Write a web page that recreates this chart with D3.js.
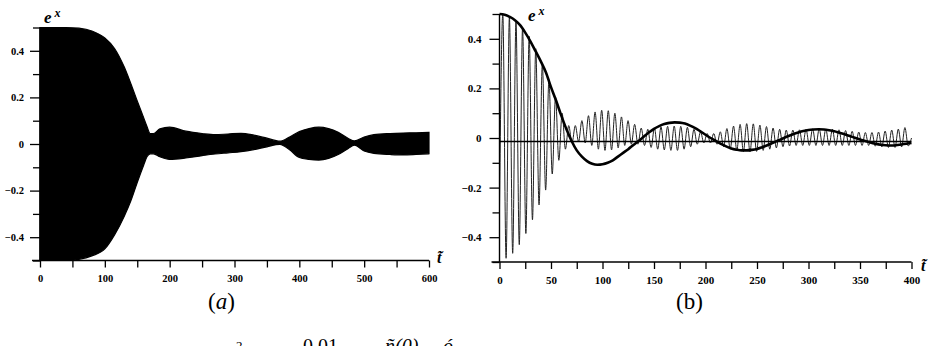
<!DOCTYPE html>
<html>
<head>
<meta charset="utf-8">
<script src="https://cdn.jsdelivr.net/npm/d3@7"></script>
<style>
  body { margin: 0; background: #fff; }
  svg { display: block; }
</style>
</head>
<body>
<svg width="935" height="346"></svg>
<script>
// panel (a): envelope of the dense oscillation (upper / lower edges of the black band)
var aT     = [0, 20, 40, 60, 80, 100, 115, 130, 140, 150, 160, 165, 170, 175, 185, 200, 225, 250, 270, 290, 310, 330, 350, 370, 385, 400, 415, 430, 445, 460, 475, 485, 500, 515, 540, 560, 580, 600];
var aUpper = [0.5, 0.5, 0.5, 0.497, 0.485, 0.455, 0.41, 0.33, 0.26, 0.185, 0.112, 0.075, 0.045, 0.045, 0.065, 0.072, 0.055, 0.045, 0.04, 0.043, 0.046, 0.038, 0.025, 0.012, 0.03, 0.053, 0.066, 0.072, 0.066, 0.05, 0.025, 0.013, 0.03, 0.04, 0.045, 0.047, 0.048, 0.05];
var aLower = [-0.5, -0.5, -0.5, -0.495, -0.48, -0.45, -0.39, -0.31, -0.245, -0.165, -0.09, -0.055, -0.042, -0.042, -0.055, -0.066, -0.06, -0.05, -0.043, -0.038, -0.033, -0.024, -0.012, -0.002, -0.025, -0.058, -0.066, -0.069, -0.062, -0.045, -0.02, -0.005, -0.03, -0.04, -0.045, -0.047, -0.045, -0.042];

// panel (b): thin oscillation, read as successive peak and trough values
var bPeriod = 6.4;
var bStart = -0.28, bEnd = 0.0;
var bPeaks = [0.5, 0.488, 0.47, 0.445, 0.41, 0.36, 0.30, 0.235, 0.165, 0.10,
              0.05, 0.05, 0.07, 0.09, 0.105, 0.112, 0.11, 0.1, 0.085, 0.07,
              0.055, 0.04, 0.035, 0.04, 0.045, 0.047, 0.048, 0.047, 0.043, 0.035,
              0.025, 0.018, 0.018, 0.025, 0.038, 0.048, 0.055, 0.058, 0.057, 0.052,
              0.046, 0.04, 0.035, 0.032, 0.032, 0.033, 0.035, 0.037, 0.037, 0.036,
              0.035, 0.033, 0.03, 0.027, 0.024, 0.022, 0.022, 0.024, 0.028, 0.032,
              0.036, 0.042];
var bTroughs = [-0.485, -0.465, -0.43, -0.385, -0.33, -0.27, -0.21, -0.145, -0.09, -0.045,
                -0.02, -0.015, -0.02, -0.03, -0.045, -0.05, -0.048, -0.04, -0.03, -0.025,
                -0.025, -0.03, -0.038, -0.045, -0.048, -0.05, -0.05, -0.045, -0.035, -0.025,
                -0.02, -0.02, -0.025, -0.035, -0.045, -0.05, -0.055, -0.056, -0.054, -0.05,
                -0.045, -0.04, -0.035, -0.032, -0.03, -0.03, -0.03, -0.03, -0.03, -0.03,
                -0.03, -0.03, -0.03, -0.03, -0.03, -0.03, -0.033, -0.036, -0.038, -0.038,
                -0.036, -0.032];

// panel (b): thick slow curve
var sT = [0, 5, 10, 15, 20, 25, 30, 35, 40, 45, 50, 55, 60, 65, 70, 75, 80, 85, 90, 95, 100, 105, 110, 115, 120, 125, 130, 135, 140, 145, 150, 155, 160, 165, 170, 175, 180, 185, 190, 195, 200, 205, 210, 215, 220, 225, 230, 235, 240, 245, 250, 255, 260, 265, 270, 275, 280, 285, 290, 295, 300, 305, 310, 315, 320, 325, 330, 335, 340, 345, 350, 355, 360, 365, 370, 375, 380, 385, 390, 395, 400];
var sV = [0.5, 0.497, 0.488, 0.475, 0.455, 0.425, 0.39, 0.35, 0.31, 0.265, 0.205, 0.15, 0.09, 0.035, -0.012, -0.05, -0.075, -0.093, -0.104, -0.108, -0.106, -0.1, -0.09, -0.075, -0.06, -0.045, -0.028, -0.012, 0.005, 0.022, 0.037, 0.048, 0.056, 0.061, 0.063, 0.062, 0.058, 0.05, 0.04, 0.027, 0.013, 0.0, -0.012, -0.024, -0.034, -0.042, -0.047, -0.05, -0.05, -0.048, -0.044, -0.037, -0.029, -0.02, -0.011, -0.002, 0.007, 0.015, 0.022, 0.028, 0.032, 0.034, 0.035, 0.034, 0.031, 0.027, 0.021, 0.015, 0.008, 0.001, -0.006, -0.012, -0.018, -0.023, -0.027, -0.029, -0.03, -0.029, -0.026, -0.023, -0.02];
var bBase = -0.014;

var yMajor = [-0.4, -0.2, 0, 0.2, 0.4];
var yMinor = [-0.5, -0.3, -0.1, 0.1, 0.3, 0.5];
var aXLabels = [0, 100, 200, 300, 400, 500, 600];
var aXTicks = d3.range(0, 601, 50);
var bXLabels = [0, 50, 100, 150, 200, 250, 300, 350, 400];
var bXTicks = d3.range(0, 401, 25);

var SERIF = "'Liberation Serif', 'Times New Roman', 'DejaVu Serif', serif";
var svg = d3.select("svg");
var fmt = function(d) { return d === 0 ? "0" : d3.format(".1f")(d); };

function axes(g, x, y, xTicks, xLabels, fs, labOff) {
  var x0 = x.range()[0], x1 = x.range()[1];
  var yb = y.range()[0], yt = y.range()[1];
  g.append("line").attr("x1", x0 - 8).attr("x2", x1).attr("y1", yb).attr("y2", yb)
    .attr("stroke", "#000").attr("stroke-width", 1.4);
  g.append("line").attr("x1", x0).attr("x2", x0).attr("y1", yt).attr("y2", yb)
    .attr("stroke", "#000").attr("stroke-width", 1.4);
  var ya = g.append("g").attr("transform", "translate(" + x0 + ",0)")
    .call(d3.axisLeft(y).tickValues(yMajor).tickFormat(fmt).tickSize(10).tickPadding(labOff));
  var ym = g.append("g").attr("transform", "translate(" + x0 + ",0)")
    .call(d3.axisLeft(y).tickValues(yMinor).tickFormat("").tickSize(7));
  var xm = g.append("g").attr("transform", "translate(0," + yb + ")")
    .call(d3.axisBottom(x).tickValues(xTicks).tickFormat("").tickSize(7));
  var xa = g.append("g").attr("transform", "translate(0," + yb + ")")
    .call(d3.axisBottom(x).tickValues(xLabels).tickFormat(d3.format("d")).tickSize(0).tickPadding(14));
  [ya, ym, xm, xa].forEach(function(s) {
    s.attr("font-family", null);
    s.select(".domain").remove();
    s.selectAll(".tick line").attr("stroke", "#000").attr("stroke-width", 1.3);
    s.selectAll(".tick text").attr("fill", "#000")
      .style("font-family", SERIF).style("font-weight", "bold").style("font-size", fs + "px");
  });
}

function ex(g, xp, yp) {
  var t = g.append("text").attr("x", xp).attr("y", yp).style("font-family", SERIF)
    .style("font-weight", "bold").style("font-style", "italic").style("font-size", "17px");
  t.append("tspan").text("e");
  t.append("tspan").attr("dx", 3).attr("dy", -6).style("font-size", "12px").text("x");
}

function tlabel(g, xp, yp) {
  g.append("text").attr("x", xp).attr("y", yp).style("font-family", SERIF)
    .style("font-weight", "bold").style("font-style", "italic").style("font-size", "16px")
    .text("t\u0303");
}

// ---------- panel (a)
var xa = d3.scaleLinear().domain([0, 600]).range([40, 429]);
var ya = d3.scaleLinear().domain([-0.5, 0.5]).range([260.5, 27.5]);
var ga = svg.append("g");
var band = aT.map(function(t, i) { return {t: t, hi: aUpper[i], lo: aLower[i]}; });
ga.append("path").datum(band)
  .attr("d", d3.area().curve(d3.curveMonotoneX)
    .x(function(d) { return xa(d.t); })
    .y0(function(d) { return ya(d.lo); })
    .y1(function(d) { return ya(d.hi); }))
  .attr("fill", "#000").attr("stroke", "#000").attr("stroke-width", 1.2);
axes(ga, xa, ya, aXTicks, aXLabels, 10.5, 6);
ex(ga, 44, 23);
tlabel(ga, 437, 263);
var la = ga.append("text").attr("x", 208).attr("y", 309).style("font-family", SERIF).style("font-size", "23px");
la.append("tspan").text("(");
la.append("tspan").style("font-style", "italic").text("a");
la.append("tspan").text(")");

// ---------- panel (b)
var xb = d3.scaleLinear().domain([0, 400]).range([499.5, 911.5]);
var yb = d3.scaleLinear().domain([-0.5, 0.5]).range([262, 14]);
var gb = svg.append("g");
var pts = [[0, bStart]];
bPeaks.forEach(function(v, i) {
  pts.push([bPeriod / 2 + i * bPeriod, v]);
  pts.push([bPeriod + i * bPeriod, bTroughs[i]]);
});
pts.push([400, bEnd]);
gb.append("path").datum(pts)
  .attr("d", d3.line().curve(d3.curveMonotoneX)
    .x(function(d) { return xb(d[0]); }).y(function(d) { return yb(d[1]); }))
  .attr("fill", "none").attr("stroke", "#222").attr("stroke-width", 1);
gb.append("line").attr("x1", xb(0)).attr("x2", xb(400)).attr("y1", yb(bBase)).attr("y2", yb(bBase))
  .attr("stroke", "#000").attr("stroke-width", 1.6);
gb.append("path").datum(sT.map(function(t, i) { return [t, sV[i]]; }))
  .attr("d", d3.line().curve(d3.curveMonotoneX)
    .x(function(d) { return xb(d[0]); }).y(function(d) { return yb(d[1]); }))
  .attr("fill", "none").attr("stroke", "#000").attr("stroke-width", 2.6);
axes(gb, xb, yb, bXTicks, bXLabels, 11, 8);
ex(gb, 528, 21);
tlabel(gb, 921, 271);
gb.append("text").attr("x", 676).attr("y", 309).style("font-family", SERIF).style("font-size", "23px").text("(b)");

// cut-off caption line at the very bottom (only the top of it shows in the reference)
var cap = svg.append("g").style("font-family", SERIF).style("font-size", "20px").style("font-style", "italic");
cap.append("text").attr("x", 236).attr("y", 350).style("font-size", "13px").style("font-style", "normal").text("2");
cap.append("text").attr("x", 303).attr("y", 353).style("font-style", "normal").text("0.01");
cap.append("text").attr("x", 385).attr("y", 353).text("\u00f1(0)");
cap.append("text").attr("x", 443).attr("y", 353).text("\u00f3");
</script>
</body>
</html>
